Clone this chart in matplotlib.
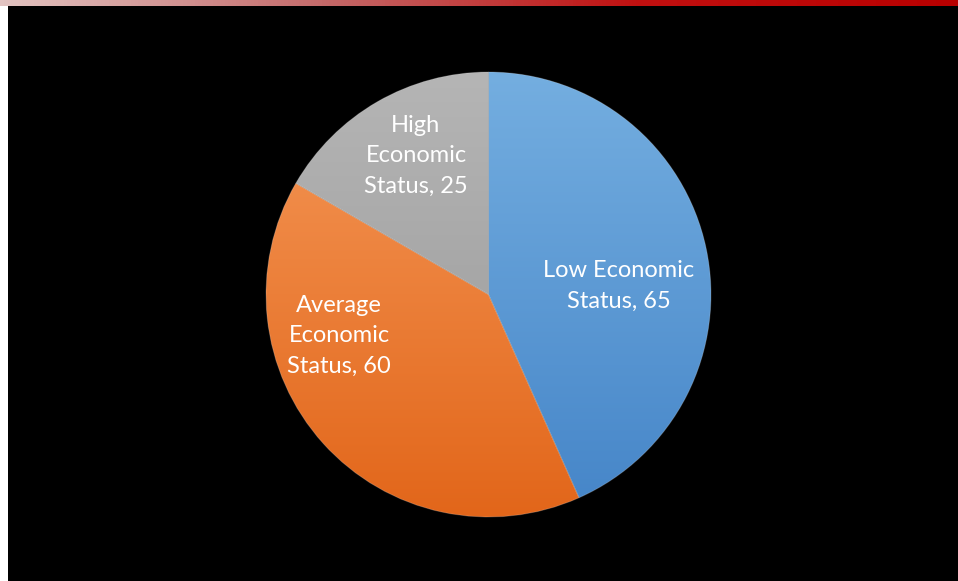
import numpy as np
import matplotlib
matplotlib.use("Agg")
from matplotlib import pyplot as plt
from matplotlib.colors import LinearSegmentedColormap
from matplotlib.patches import Rectangle

labels = ['Low Economic\nStatus, 65', 'Average\nEconomic\nStatus, 60', 'High\nEconomic\nStatus, 25']
values = [65, 60, 25]
top_colors = ['#74aee0', '#f59858', '#b5b5b5']
bottom_colors = ['#4585c8', '#e2661a', '#979797']

W, H = 958, 581
cx, cy, r = 488.5, H - 294.5, 222.5

fig = plt.figure(figsize=(W / 100, H / 100), dpi=100)
fig.patch.set_facecolor('white')
ax = fig.add_axes([0, 0, 1, 1])
ax.set_axis_off()

# black slide area
ax.add_patch(Rectangle((8, 0), W - 8, H - 6, facecolor='black', edgecolor='none', zorder=0))

# top red gradient band
band = np.linspace(0, 1, 256).reshape(1, -1)
band_cmap = LinearSegmentedColormap.from_list('band', ['#e2c4c2', '#c46a6a', '#c01010', '#b80000'])
ax.imshow(band, cmap=band_cmap, extent=[0, W, H - 6, H], aspect='auto', zorder=1)

wedges, _ = ax.pie(values, startangle=90, counterclock=False, center=(cx, cy), radius=r,
                   colors=bottom_colors,
                   wedgeprops=dict(edgecolor=(1, 1, 1, 0.2), linewidth=0.7))

grad = np.linspace(1, 0, 256).reshape(-1, 1)
for w, ctop, cbot in zip(wedges, top_colors, bottom_colors):
    cm = LinearSegmentedColormap.from_list('g', [cbot, ctop])
    im = ax.imshow(grad, cmap=cm, extent=[cx - r, cx + r, cy - r, cy + r],
                   aspect='auto', zorder=2, vmin=0, vmax=1)
    im.set_clip_path(w)
    w.set_zorder(3)
    w.set_facecolor('none')

label_pos = [(619, 286), (339, 336), (416, 156)]
for txt, (x, y) in zip(labels, label_pos):
    ax.text(x, H - y, txt, color='white', fontsize=17, family='Lato',
            ha='center', va='center', linespacing=1.56, zorder=4)

ax.set_xlim(0, W)
ax.set_ylim(0, H)
ax.set_aspect('auto')

fig.savefig('out.png', dpi=100, facecolor='white')
